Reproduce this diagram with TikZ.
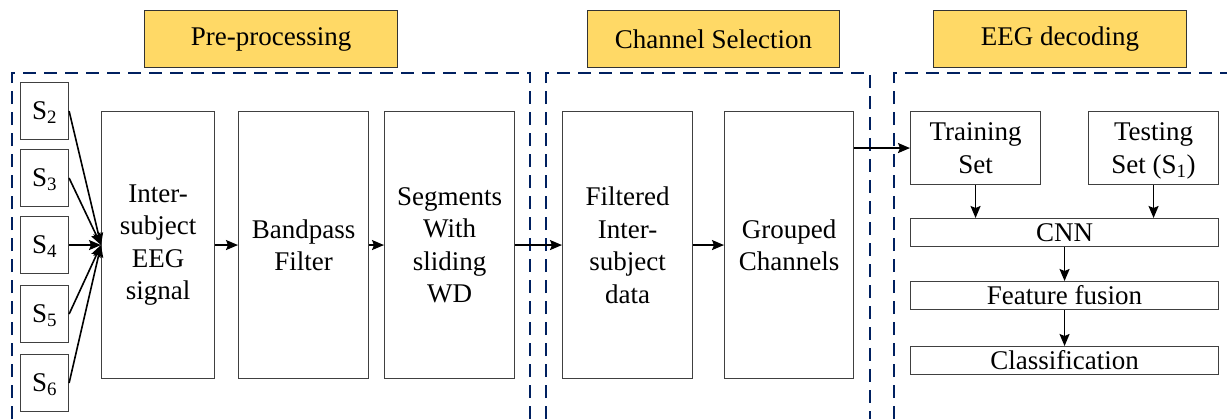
\documentclass[tikz,border=0pt]{standalone}
\usepackage{fontspec}
\setmainfont{Liberation Serif}
\usetikzlibrary{arrows.meta}
\definecolor{hdrfill}{HTML}{FFD966}
\definecolor{navy}{HTML}{002060}
\definecolor{boxline}{HTML}{404040}
\tikzset{
  txt/.style={font=\fontsize{27}{32.5}\selectfont, align=center, inner sep=0pt},
  blk/.style={draw=boxline, line width=1.1pt, rectangle, inner sep=0pt, anchor=north west},
  hdr/.style={blk, fill=hdrfill, draw=black!80},
  region/.style={draw=navy, line width=2.3pt, dash pattern=on 13pt off 8pt},
  arr/.style={line width=1.6pt, -{Stealth[length=12pt,width=10pt,inset=2pt]}},
}
\newcommand{\sub}[1]{\smash{\textsubscript{#1}}}
% [style] name, x0, y0, x1, y1, text
\newcommand{\blkat}[7][blk]{%
  \node[#1, minimum width={(#5-#3)*1pt}, minimum height={(#6-#4)*1pt}] (#2) at (#3,#4) {};
  \node[txt] at (#2.center) {#7};
}
\begin{document}
\begin{tikzpicture}[x=1pt, y=-1pt]
\useasboundingbox (0,0) rectangle (1227,418);
\clip (0,0) rectangle (1227,418);

% stage headers
\blkat[hdr]{hpre}{144}{10}{397}{67}{Pre-processing}
\blkat[hdr]{hsel}{587}{10}{839}{67}{Channel Selection}
\blkat[hdr]{hdec}{933}{10}{1186}{67}{EEG decoding}

% dashed stage regions
\draw[region] (12,440) -- (12,73) -- (530,73) -- (530,440);
\draw[region] (546,440) -- (546,73) -- (870,73) -- (870,440);
\draw[region] (894,440) -- (894,73) -- (1240,73);

% subjects
\blkat{s2}{20}{82}{68}{139}{S\sub{2}}
\blkat{s3}{20}{149}{68}{206}{S\sub{3}}
\blkat{s4}{20}{216}{68}{273}{S\sub{4}}
\blkat{s5}{20}{285}{68}{342}{S\sub{5}}
\blkat{s6}{20}{354}{68}{411}{S\sub{6}}

% pre-processing and channel selection blocks
\blkat{inter}{101}{111}{214}{378}{Inter-\\subject\\EEG\\signal}
\blkat{band}{238}{111}{368}{378}{Bandpass\\Filter}
\blkat{seg}{384}{111}{514}{378}{Segments\\With\\sliding\\WD}
\blkat{filt}{562}{111}{692}{378}{Filtered\\Inter-\\subject\\data}
\blkat{grp}{724}{111}{853}{378}{Grouped\\Channels}

% decoding blocks
\blkat{train}{910}{111}{1040}{184}{Training\\Set}
\blkat{test}{1088}{111}{1218}{184}{Testing\\Set \smash{(S\textsubscript{1})}}
\blkat{cnn}{910}{218}{1218}{246}{CNN}
\blkat{fuse}{910}{281}{1218}{309}{Feature fusion}
\blkat{cls}{910}{346}{1218}{374}{Classification}

% connectors
\foreach \s in {s2,s3,s4,s5,s6} \draw[arr] (\s.east) -- (inter.west);
\draw[arr] (inter.east) -- (band.west);
\draw[arr] (band.east) -- (seg.west);
\draw[arr] (seg.east) -- (filt.west);
\draw[arr] (filt.east) -- (grp.west);
\draw[arr] (grp.east |- train.west) -- (train.west);
\draw[arr] (train.south) -- (train.south |- cnn.north);
\draw[arr] (test.south) -- (test.south |- cnn.north);
\draw[arr] (cnn.south) -- (fuse.north);
\draw[arr] (fuse.south) -- (cls.north);
\end{tikzpicture}
\end{document}
